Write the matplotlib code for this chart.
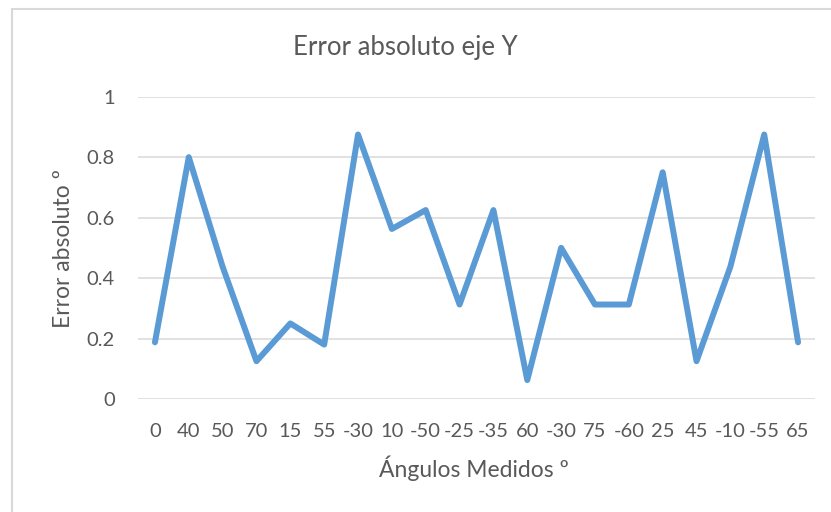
import matplotlib
matplotlib.use("Agg")
import matplotlib.pyplot as plt
from matplotlib.patches import Rectangle

angulos = ["0", "40", "50", "70", "15", "55", "-30", "10", "-50", "-25",
           "-35", "60", "-30", "75", "-60", "25", "45", "-10", "-55", "65"]
error_abs = [0.1875, 0.8, 0.4375, 0.125, 0.25, 0.18, 0.875, 0.5625, 0.625, 0.3125,
             0.625, 0.0625, 0.5, 0.3125, 0.3125, 0.75, 0.125, 0.4375, 0.875, 0.1875]
y_ticks = [0, 0.2, 0.4, 0.6, 0.8, 1]
y_tick_labels = ["0", "0.2", "0.4", "0.6", "0.8", "1"]

W, H = 831, 512
plt.rcParams["font.family"] = ["Lato", "DejaVu Sans"]
text_color = "#595959"

fig = plt.figure(figsize=(W / 100, H / 100), dpi=100)
fig.patch.set_facecolor("white")

# chart-area border
fig.patches.append(Rectangle((12 / W, -0.1), 1.2, (H - 9) / H + 0.1,
                             transform=fig.transFigure, fill=False,
                             edgecolor="#D9D9D9", linewidth=1.5))

ax = fig.add_axes([138 / W, (H - 399) / H, (815 - 138) / W, (399 - 96.7) / H])
x = list(range(len(angulos)))
ax.plot(x, error_abs, color="#5B9BD5", linewidth=4.3,
        solid_capstyle="round", solid_joinstyle="round", zorder=3)

ax.set_xlim(-0.5, len(angulos) - 0.5)
ax.set_ylim(0, 1)
ax.set_yticks(y_ticks)
ax.set_yticklabels(y_tick_labels)
ax.set_xticks(x)
ax.set_xticklabels(angulos)
for yv in y_ticks:
    ax.axhline(yv, color="#D9D9D9", linewidth=1.1, zorder=1)
for s in ax.spines.values():
    s.set_visible(False)
ax.tick_params(axis="both", length=0, labelsize=14.5, labelcolor=text_color)
ax.tick_params(axis="x", pad=17)
ax.tick_params(axis="y", pad=16.5)

fig.text(405 / W, 1 - 48 / H, "Error absoluto eje Y", ha="center", va="center",
         fontsize=18.5, color=text_color)
fig.text(474 / W, 1 - 468 / H, "Ángulos Medidos º", ha="center", va="center",
         fontsize=16.5, color=text_color)
fig.text(64 / W, 1 - 248 / H, "Error absoluto º", ha="center", va="center",
         rotation=90, fontsize=16.5, color=text_color)

fig.savefig("out.png", dpi=100, facecolor="white")
